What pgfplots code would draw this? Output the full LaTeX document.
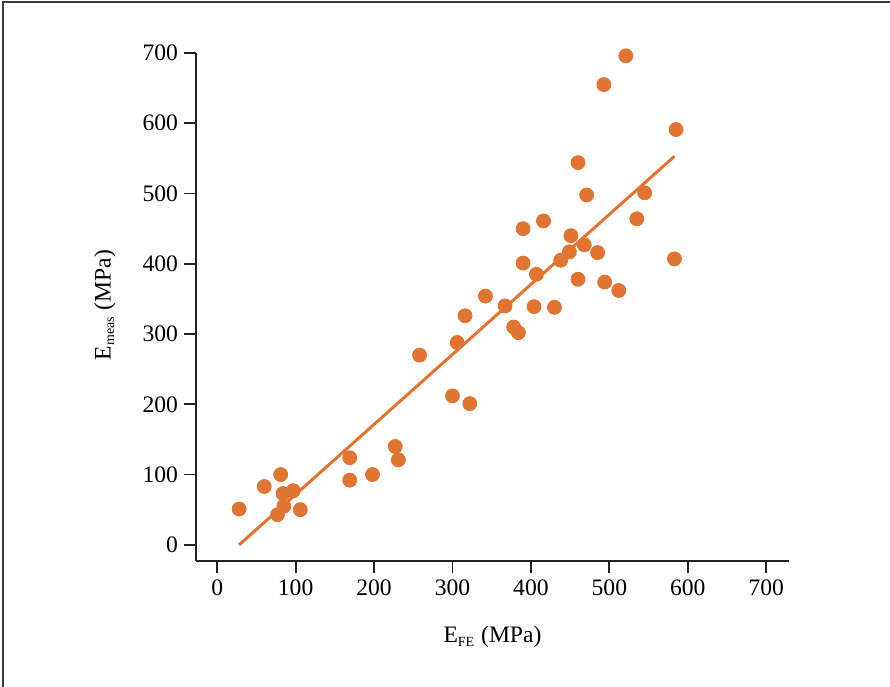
\documentclass[border=0pt]{standalone}
\usepackage{fontspec}
\setmainfont{Liberation Serif}
\usepackage{pgfplots}
\pgfplotsset{compat=1.18}
\definecolor{dotOrange}{HTML}{E07433}
\definecolor{axisGray}{HTML}{222222}
\definecolor{frameGray}{HTML}{3A3A3A}

\begin{document}
\begin{tikzpicture}
\begin{axis}[
  at={(0,0)}, anchor=south west,
  scale only axis, width=296.5bp, height=254bp,
  xmin=-27, xmax=729, ymin=-23, ymax=700,
  xtick={0,100,...,700}, ytick={0,100,...,700},
  axis lines*=left, axis line style={axisGray, line width=1.4bp},
  tick style={axisGray, line width=0.9bp},
  tick align=outside, major tick length=6bp,
  tick pos=left,
  font=\fontsize{11.8bp}{13bp}\selectfont,
  /pgf/number format/assume math mode=true,
  yticklabel style={xshift=0.5bp},
  xticklabel style={yshift=0bp},
  xlabel={E\textsubscript{\scriptsize FE} (MPa)},
  ylabel={E\textsubscript{\scriptsize meas} (MPa)},
  xlabel style={at={(axis description cs:0.5,-0.15)}, anchor=center},
  ylabel style={at={(axis description cs:-0.1535,0.504)}, anchor=center, rotate=0},
  clip=false,
]
\addplot[only marks, mark=*, mark size=3.5bp, color=dotOrange, mark options={draw=none, fill=dotOrange}] coordinates {
(28,51) (60,83) (81,100) (84,73) (97,77) (85,55) (77,43) (106,50)
(169,124) (169,92) (198,100) (227,140) (231,121) (258,270)
(300,212) (322,201) (306,288) (316,326) (342,354) (367,340)
(378,310) (384,302) (390,450) (416,461) (390,401) (407,385)
(404,339) (430,338) (438,405) (449,417) (451,440) (468,427)
(485,416) (460,378) (494,374) (512,362) (535,464) (583,407)
(521,696) (493,655) (585,591) (460,544) (471,498) (545,501)
};
\addplot[color=dotOrange, line width=1.5bp, no marks] coordinates {(28,0) (583,553)};
\end{axis}
\draw[frameGray, line width=1bp] (-96.25bp,-63bp) -- (-96.25bp,279.25bp) -- (347bp,279.25bp);
\pgfresetboundingbox
\path[use as bounding box] (-98bp,-63bp) rectangle (347bp,280.5bp);
\end{tikzpicture}
\end{document}
